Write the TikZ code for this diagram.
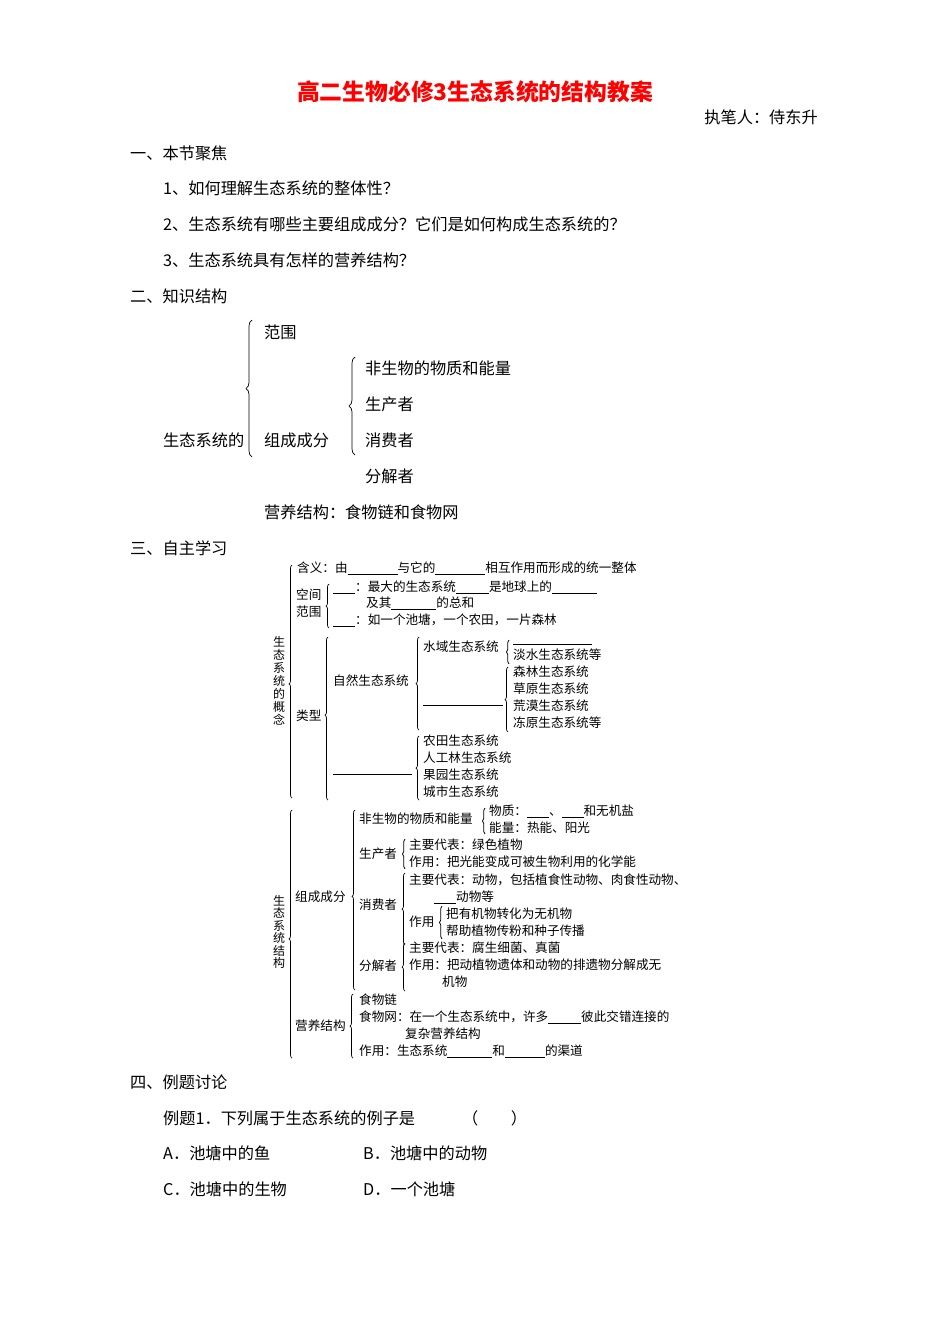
\documentclass[tikz,border=0pt]{standalone}
\usepackage{fontspec}
\setmainfont{Noto Sans CJK SC}
\usetikzlibrary{decorations.pathreplacing}
\newcommand{\bl}[1]{\rule[-1.5pt]{#1pt}{0.5pt}}
\begin{document}
\begin{tikzpicture}[x=1pt,y=1pt,
  body/.style={anchor=west,inner sep=0pt,font=\fontsize{16.2}{16}\selectfont},
  scan/.style={anchor=west,inner sep=0pt,font=\fontsize{12.6}{12}\selectfont},
  brc/.style={decorate,decoration={brace,amplitude=#1},line width=0.7pt},
  brc/.default=4pt]
\path[use as bounding box] (0,0) rectangle (950,-1344);
\node[inner sep=0pt,text=red,font=\fontsize{22.8}{22}\selectfont\bfseries] (title) at (475,-92) {高二生物必修3生态系统的结构教案};
\node[anchor=east,inner sep=0pt,font=\fontsize{16.2}{16}\selectfont] (author) at (818,-117) {执笔人：侍东升};
\node[body] (s1) at (130,-153) {一、本节聚焦};
\node[body] (q1) at (163,-188) {1、如何理解生态系统的整体性？};
\node[body] (q2) at (163,-224) {2、生态系统有哪些主要组成成分？它们是如何构成生态系统的？};
\node[body] (q3) at (163,-260) {3、生态系统具有怎样的营养结构？};
\node[body] (s2) at (130,-296) {二、知识结构};
\draw[brc=6pt] (252,-457) -- (252,-320);
\node[body] (fw) at (264,-332) {范围};
\node[body] (stx) at (163,-440) {生态系统的};
\node[body] (zc) at (264,-440) {组成成分};
\draw[brc=6pt] (355,-455) -- (355,-357);
\node[body] (k1) at (365,-368) {非生物的物质和能量};
\node[body] (k2) at (365,-404) {生产者};
\node[body] (k3) at (365,-440) {消费者};
\node[body] (k4) at (365,-476) {分解者};
\node[body] (yy) at (264,-512) {营养结构：食物链和食物网};
\node[body] (s3) at (130,-548) {三、自主学习};
% ---- scanned diagram part 1
\node[inner sep=0pt,align=center,font=\fontsize{12}{13}\selectfont] (gn) at (279,-681) {生\\态\\系\\统\\的\\概\\念};
\draw[brc=3pt,decoration={aspect=0.49}] (292,-798) -- (292,-565);
\node[scan] (hy) at (297,-568) {含义：由\bl{50}与它的\bl{50}相互作用而形成的统一整体};
\node[scan,align=left,font=\fontsize{12.6}{17}\selectfont] (kj) at (296,-603) {空间\\范围};
\draw[brc=3pt] (329,-628) -- (329,-584);
\node[scan] (kj1) at (333,-587) {\bl{22}：最大的生态系统\bl{33}是地球上的\bl{45}};
\node[scan] (kj2) at (366,-603) {及其\bl{45}的总和};
\node[scan] (kj3) at (333,-620) {\bl{22}：如一个池塘，一个农田，一片森林};
\node[scan] (lx) at (296,-716) {类型};
\draw[brc=3pt,decoration={aspect=0.52}] (328,-800) -- (328,-637);
\node[scan] (zr) at (333,-681) {自然生态系统};
\draw[brc=3pt] (419,-730) -- (419,-637);
\node[scan] (sy) at (423,-647) {水域生态系统};
\draw[brc=2.5pt] (509,-664) -- (509,-640);
\draw[line width=0.5pt] (513,-644) -- (592,-644);
\node[scan] (ds) at (513,-655) {淡水生态系统等};
\draw[line width=0.5pt] (423,-705) -- (503,-705);
\draw[brc=3pt] (508,-732) -- (508,-667);
\node[scan] (l1) at (513,-672) {森林生态系统};
\node[scan] (l2) at (513,-689) {草原生态系统};
\node[scan] (l3) at (513,-706) {荒漠生态系统};
\node[scan] (l4) at (513,-723) {冻原生态系统等};
\draw[line width=0.5pt] (333,-774) -- (412,-774);
\draw[brc=3pt] (419,-800) -- (419,-736);
\node[scan] (r1) at (423,-741) {农田生态系统};
\node[scan] (r2) at (423,-758) {人工林生态系统};
\node[scan] (r3) at (423,-775) {果园生态系统};
\node[scan] (r4) at (423,-792) {城市生态系统};
% ---- scanned diagram part 2
\node[inner sep=0pt,align=center,font=\fontsize{12}{12.5}\selectfont] (jg) at (279,-932) {生\\态\\系\\统\\结\\构};
\draw[brc=3pt,decoration={aspect=0.48}] (292,-1058) -- (292,-810);
\node[scan] (zccf) at (295,-897) {组成成分};
\draw[brc=3pt,decoration={aspect=0.52}] (355,-990) -- (355,-810);
\node[scan] (fsw) at (359,-819) {非生物的物质和能量};
\draw[brc=2.5pt] (485,-834) -- (485,-808);
\node[scan] (wz) at (489,-811) {物质：\bl{22}、\bl{22}和无机盐};
\node[scan] (nl) at (489,-828) {能量：热能、阳光};
\node[scan] (scz) at (359,-854) {生产者};
\draw[brc=2.5pt] (405,-869) -- (405,-839);
\node[scan] (sc1) at (409,-845) {主要代表：绿色植物};
\node[scan] (sc2) at (409,-862) {作用：把光能变成可被生物利用的化学能};
\node[scan] (xfz) at (359,-905) {消费者};
\draw[brc=3pt] (405,-945) -- (405,-873);
\node[scan] (xf1) at (409,-880) {主要代表：动物，包括植食性动物、肉食性动物、};
\node[scan] (xf2) at (434,-897) {\bl{22}动物等};
\node[scan] (xf3) at (409,-922) {作用};
\draw[brc=2.5pt] (442,-939) -- (442,-906);
\node[scan] (xf4) at (446,-914) {把有机物转化为无机物};
\node[scan] (xf5) at (446,-931) {帮助植物传粉和种子传播};
\node[scan] (fjz) at (359,-966) {分解者};
\draw[brc=3pt] (405,-991) -- (405,-943);
\node[scan] (fj1) at (409,-948) {主要代表：腐生细菌、真菌};
\node[scan] (fj2) at (409,-965) {作用：把动植物遗体和动物的排遗物分解成无};
\node[scan] (fj3) at (442,-982) {机物};
\node[scan] (yyjg) at (295,-1026) {营养结构};
\draw[brc=3pt] (353,-1058) -- (353,-994);
\node[scan] (y1) at (359,-1000) {食物链};
\node[scan] (y2) at (359,-1017) {食物网：在一个生态系统中，许多\bl{33}彼此交错连接的};
\node[scan] (y3) at (405,-1034) {复杂营养结构};
\node[scan] (y4) at (359,-1051) {作用：生态系统\bl{45}和\bl{40}的渠道};
% ---- section 4
\node[body] (s4) at (130,-1082) {四、例题讨论};
\node[body] (e1) at (163,-1118) {例题1．下列属于生态系统的例子是};
\node[body] (e1p) at (462,-1118) {（　　）};
\node[body] (ea) at (163,-1153) {A．池塘中的鱼};
\node[body] (eb) at (363,-1153) {B．池塘中的动物};
\node[body] (ec) at (163,-1189) {C．池塘中的生物};
\node[body] (ed) at (363,-1189) {D．一个池塘};
\end{tikzpicture}
\end{document}
